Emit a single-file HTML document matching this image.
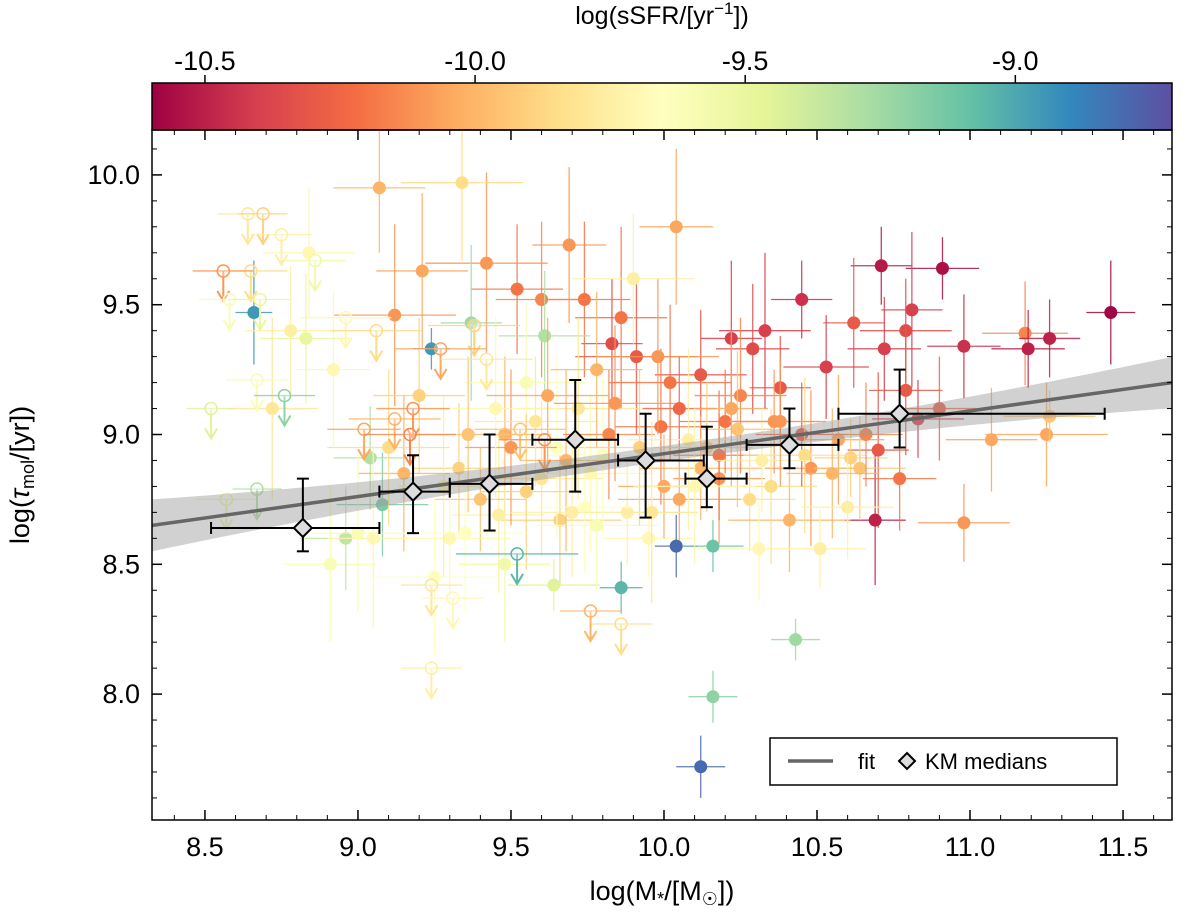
<!DOCTYPE html>
<html><head><meta charset="utf-8">
<style>
html,body{margin:0;padding:0;background:#fff;}
svg text{font-family:"Liberation Sans","DejaVu Sans",sans-serif;}
</style></head>
<body>
<svg id="chart" width="1200" height="913" viewBox="0 0 1200 913" xmlns="http://www.w3.org/2000/svg">
<defs>
<linearGradient id="spec" x1="0" x2="1" y1="0" y2="0">
<stop offset="0" stop-color="rgb(158,1,66)"/><stop offset="0.1" stop-color="rgb(213,62,79)"/><stop offset="0.2" stop-color="rgb(244,109,67)"/><stop offset="0.3" stop-color="rgb(253,174,97)"/><stop offset="0.4" stop-color="rgb(254,224,139)"/><stop offset="0.5" stop-color="rgb(255,255,191)"/><stop offset="0.6" stop-color="rgb(230,245,152)"/><stop offset="0.7" stop-color="rgb(171,221,164)"/><stop offset="0.8" stop-color="rgb(102,194,165)"/><stop offset="0.9" stop-color="rgb(50,136,189)"/><stop offset="1" stop-color="rgb(94,79,162)"/>
</linearGradient>
<clipPath id="plotclip"><rect x="152" y="130" width="1020" height="690"/></clipPath>
</defs>
<rect x="152" y="83" width="1020" height="47" fill="url(#spec)" stroke="#000" stroke-width="1.5"/>
<text x="662" y="24" font-size="25" text-anchor="middle">log(sSFR/[yr<tspan font-size="17" dy="-10">−1</tspan><tspan dy="10">])</tspan></text>
<g id="cbticks"></g>
<g id="marks" clip-path="url(#plotclip)"></g>
<rect x="152" y="130" width="1020" height="690" fill="none" stroke="#000" stroke-width="1.5"/>
<g id="axes"></g>
<text x="662" y="900" font-size="27" text-anchor="middle">log(M<tspan font-size="18" dy="5">*</tspan><tspan dy="-5">/[M</tspan><tspan font-size="18" dy="5">☉</tspan><tspan dy="-5">])</tspan></text>
<text transform="translate(29,475) rotate(-90)" font-size="27" text-anchor="middle">log(<tspan font-style="italic">τ</tspan><tspan font-size="18" dy="5">mol</tspan><tspan dy="-5">/[yr])</tspan></text>
<g>
<rect x="770" y="738" width="347" height="47" fill="#fff" stroke="#000" stroke-width="1.5"/>
<line x1="788" y1="761" x2="833" y2="761" stroke="#666" stroke-width="3.5"/>
<text x="858" y="769" font-size="22">fit</text>
<path d="M907,753 L915,761 L907,769 L899,761 Z" fill="#ddd" stroke="#000" stroke-width="2"/>
<text x="925" y="769" font-size="22">KM medians</text>
</g>
</svg>
<script>
// data arrays
const mass = [11.46,10.91,10.71,10.45,11.18,11.19,11.26,10.98,10.81,10.79,10.72,10.62,10.53,10.38,10.79,10.83,10.70,10.69,10.77,11.25,10.33,10.29,10.22,10.12,10.05,9.99,9.91,9.86,9.83,9.74,9.69,9.60,9.52,9.42,10.04,9.07,9.34,9.21,9.12,9.24,9.37,9.61,9.88,9.95,9.66,9.46,9.40,9.60,9.33,9.80,10.12,10.18,10.28,10.41,10.48,10.57,10.61,10.31,10.51,10.64,10.05,10.12,10.16,10.43,9.86,10.04,10.16,9.64,8.91,8.84,8.83,8.66,9.08,9.04,8.96,10.98,11.07,11.26,9.55,9.72,9.48,9.20,9.30,9.98,10.20,10.35,9.65,9.15,9.90,10.45,9.78,10.25,10.90,
9.50,9.58,9.68,9.76,9.82,9.92,10.00,10.08,10.18,10.24,10.36,10.46,10.55,10.66,9.45,9.55,9.62,9.74,9.84,9.96,10.02,10.14,10.22,10.32,9.36,9.28,9.10,9.00,8.92,8.78,8.72,9.35,9.48,9.70,9.78,10.10,10.38,10.60,9.25,9.05];
const tau = [9.47,9.64,9.65,9.52,9.39,9.33,9.37,9.34,9.48,9.40,9.33,9.43,9.26,9.18,9.17,9.06,8.94,8.67,8.83,9.00,9.40,9.33,9.37,9.23,9.10,9.03,9.30,9.45,9.35,9.52,9.73,9.52,9.56,9.66,9.80,9.95,9.97,9.63,9.46,9.33,9.43,9.38,8.70,8.60,8.67,8.69,8.75,8.83,8.87,8.92,8.87,8.83,8.75,8.67,8.87,8.98,8.91,8.56,8.56,8.87,8.75,7.72,7.99,8.21,8.41,8.57,8.57,8.42,8.50,9.70,9.37,9.47,8.73,8.91,8.60,8.66,8.98,9.07,9.20,9.10,9.00,9.15,8.60,9.30,9.05,8.80,8.95,8.85,9.60,9.00,8.65,9.15,9.10,
8.95,9.05,8.90,8.85,9.00,8.95,8.80,8.98,8.92,9.02,9.05,8.92,8.85,9.00,9.10,8.78,9.15,8.72,9.12,8.70,9.20,8.95,9.10,8.90,9.00,8.80,8.95,8.62,9.25,9.40,9.10,8.62,8.50,8.70,9.25,8.80,9.05,8.72,8.45,8.60];
const ssfr = [-10.58,-10.55,-10.52,-10.45,-10.15,-10.5,-10.5,-10.45,-10.4,-10.35,-10.4,-10.3,-10.4,-10.3,-10.3,-10.4,-10.3,-10.5,-10.2,-10.05,-10.4,-10.35,-10.4,-10.3,-10.25,-10.2,-10.3,-10.2,-10.35,-10.2,-10.1,-10.15,-10.2,-10.1,-10.05,-10.0,-9.85,-10.05,-10.1,-8.95,-9.25,-9.3,-9.75,-9.7,-9.9,-9.75,-9.95,-9.8,-9.9,-9.65,-10.0,-10.1,-9.85,-10.0,-10.1,-10.05,-9.9,-9.7,-9.75,-9.95,-10.05,-8.8,-9.2,-9.25,-9.05,-8.8,-9.1,-9.45,-9.6,-9.7,-9.5,-8.95,-9.15,-9.3,-9.35,-10.1,-10.05,-9.95,-9.6,-9.8,-10.0,-9.9,-9.7,-10.1,-10.2,-9.85,-9.65,-10.0,-9.75,-10.3,-9.6,-10.15,-10.25,
-10.1,-9.8,-10.0,-9.7,-10.15,-9.9,-10.05,-9.75,-10.2,-9.95,-10.1,-9.85,-10.0,-10.15,-9.7,-9.9,-10.05,-9.65,-10.1,-9.8,-10.2,-9.9,-10.05,-9.75,-9.95,-9.75,-9.85,-9.6,-9.7,-9.75,-9.8,-9.65,-9.55,-9.75,-10.0,-9.7,-10.1,-9.75,-9.65,-9.7];
const xerr = [0.08,0.12,0.1,0.1,0.14,0.12,0.1,0.12,0.1,0.15,0.12,0.1,0.14,0.1,0.12,0.15,0.1,0.1,0.12,0.2,0.15,0.12,0.1,0.15,0.12,0.15,0.2,0.15,0.1,0.15,0.12,0.15,0.15,0.2,0.12,0.15,0.2,0.15,0.2,0.06,0.1,0.15,0.2,0.15,0.2,0.15,0.15,0.2,0.15,0.2,0.2,0.15,0.15,0.2,0.15,0.15,0.12,0.2,0.15,0.15,0.2,0.08,0.08,0.08,0.07,0.07,0.1,0.15,0.15,0.15,0.15,0.06,0.15,0.12,0.15,0.15,0.15,0.15,0.2,0.2,0.15,0.15,0.2,0.2,0.15,0.15,0.2,0.15,0.2,0.15,0.2,0.15,0.12,
0.15,0.2,0.15,0.2,0.15,0.2,0.15,0.2,0.15,0.12,0.15,0.2,0.15,0.12,0.2,0.15,0.2,0.15,0.2,0.15,0.2,0.15,0.12,0.15,0.2,0.15,0.2,0.15,0.12,0.15,0.15,0.2,0.15,0.2,0.15,0.2,0.15,0.15,0.2,0.15];
const yerr = [0.2,0.12,0.15,0.15,0.2,0.15,0.15,0.2,0.3,0.2,0.2,0.25,0.2,0.2,0.25,0.15,0.3,0.25,0.2,0.2,0.3,0.25,0.3,0.25,0.2,0.3,0.3,0.35,0.25,0.3,0.3,0.3,0.25,0.35,0.3,0.25,0.3,0.3,0.35,0.08,0.3,0.25,0.2,0.15,0.25,0.3,0.2,0.3,0.25,0.3,0.2,0.25,0.2,0.2,0.3,0.25,0.15,0.2,0.15,0.2,0.2,0.12,0.1,0.08,0.1,0.12,0.1,0.1,0.3,0.25,0.25,0.2,0.2,0.2,0.2,0.15,0.2,0.1,0.3,0.35,0.3,0.3,0.25,0.3,0.2,0.3,0.35,0.3,0.25,0.2,0.25,0.3,0.2,
0.3,0.25,0.35,0.3,0.25,0.3,0.2,0.35,0.25,0.3,0.2,0.3,0.25,0.2,0.35,0.3,0.3,0.25,0.3,0.35,0.3,0.25,0.3,0.2,0.3,0.35,0.3,0.3,0.3,0.25,0.35,0.3,0.3,0.25,0.3,0.3,0.25,0.2,0.3,0.35];
// upper limits
const ulMass = [8.64,8.69,8.75,8.65,8.56,8.58,8.68,8.86,8.96,9.06,8.67,8.76,8.52,8.57,8.67,9.12,9.18,9.02,9.52,9.24,9.31,9.24,9.86,9.76,9.38,9.27,9.42,9.53,9.61,9.17];
const ulTau = [9.85,9.85,9.77,9.63,9.63,9.52,9.52,9.67,9.45,9.40,9.21,9.15,9.10,8.75,8.79,9.06,9.10,9.02,8.54,8.42,8.37,8.10,8.27,8.32,9.42,9.33,9.29,9.02,8.98,9.00];
const ulSsfr = [-9.8,-9.9,-9.75,-9.85,-10.1,-9.6,-9.5,-9.55,-9.7,-9.85,-9.6,-9.2,-9.45,-9.5,-9.3,-10.0,-10.1,-10.05,-9.05,-9.8,-9.7,-9.75,-9.85,-10.0,-9.9,-10.05,-9.8,-9.95,-10.1,-10.15];
const ulXerr = [0.1,0.08,0.1,0.12,0.1,0.1,0.1,0.1,0.15,0.15,0.1,0.1,0.08,0.1,0.08,0.15,0.12,0.12,0.2,0.1,0.1,0.1,0.1,0.1,0.15,0.15,0.15,0.15,0.15,0.15];
// KM medians
const kmMass = [8.82,9.18,9.43,9.71,9.94,10.14,10.41,10.77];
const kmTau = [8.64,8.78,8.81,8.98,8.90,8.83,8.96,9.08];
const kmXlo = [8.52,9.07,9.30,9.57,9.85,10.07,10.27,10.57];
const kmXhi = [9.07,9.30,9.57,9.85,10.13,10.27,10.57,11.44];
const kmYlo = [8.55,8.62,8.63,8.78,8.68,8.72,8.87,8.95];
const kmYhi = [8.83,8.92,9.00,9.21,9.08,9.03,9.10,9.25];
// fit
const fitSlope = [0.165];
const fitAt10 = [8.926];
const bandBase = [0.03];
const bandCurv = [0.025];
const xTicks = [8.5,9.0,9.5,10.0,10.5,11.0,11.5];
const yTicks = [8.0,8.5,9.0,9.5,10.0];
const cTicks = [-10.5,-10.0,-9.5,-9.0];

const X0=152,X1=1172,Y0=130,Y1=820;
const xmin=8.327,xmax=11.66,ymin=7.515,ymax=10.173,cmin=-10.598,cmax=-8.71;
const sx=v=>X0+(v-xmin)/(xmax-xmin)*(X1-X0);
const sy=v=>Y1-(v-ymin)/(ymax-ymin)*(Y1-Y0);
const sc=v=>X0+(v-cmin)/(cmax-cmin)*(X1-X0);
const stops=[[158,1,66],[213,62,79],[244,109,67],[253,174,97],[254,224,139],[255,255,191],[230,245,152],[171,221,164],[102,194,165],[50,136,189],[94,79,162]];
function cmap(v){let t=Math.max(0,Math.min(1,(v-cmin)/(cmax-cmin)))*10;let i=Math.min(9,Math.floor(t)),f=t-i;const a=stops[i],b=stops[i+1];return `rgb(${a.map((c,k)=>Math.round(c+(b[k]-c)*f)).join(',')})`;}
const NS='http://www.w3.org/2000/svg';
function mk(tag,attrs,parent){const e=document.createElementNS(NS,tag);for(const k in attrs)e.setAttribute(k,attrs[k]);parent.appendChild(e);return e;}
const marks=document.getElementById('marks'),axes=document.getElementById('axes'),cb=document.getElementById('cbticks');

// scatter detections
mass.forEach((m,i)=>{
  const g=mk('g',{},marks);
  
  
  const c=cmap(ssfr[i]);
  mk('line',{x1:sx(m-xerr[i]),x2:sx(m+xerr[i]),y1:sy(tau[i]),y2:sy(tau[i]),stroke:c,'stroke-width':1.3,opacity:0.85},g);
  mk('line',{x1:sx(m),x2:sx(m),y1:sy(tau[i]-yerr[i]),y2:sy(tau[i]+yerr[i]),stroke:c,'stroke-width':1.3,opacity:0.85},g);
  mk('circle',{cx:sx(m),cy:sy(tau[i]),r:6.5,fill:c},g);
});
// upper limits
ulMass.forEach((m,i)=>{
  const g=mk('g',{},marks);
  
  
  const c=cmap(ulSsfr[i]),x=sx(m),y=sy(ulTau[i]);
  mk('line',{x1:sx(m-ulXerr[i]),x2:sx(m+ulXerr[i]),y1:y,y2:y,stroke:c,'stroke-width':1.3,opacity:0.85},g);
  mk('line',{x1:x,x2:x,y1:y,y2:y+28,stroke:c,'stroke-width':2},g);
  mk('path',{d:`M${x-6},${y+20} L${x},${y+30} L${x+6},${y+20}`,fill:'none',stroke:c,'stroke-width':2},g);
  mk('circle',{cx:x,cy:y,r:6,fill:'#fff','fill-opacity':0.3,stroke:c,'stroke-width':1.5},g);
});
// fit band and line
let up=[],dn=[];
for(let k=0;k<=60;k++){const m=xmin+(xmax-xmin)*k/60;const f=fitAt10[0]+fitSlope[0]*(m-10);const w=bandBase[0]+bandCurv[0]*(m-10)*(m-10);up.push(`${sx(m)},${sy(f+w)}`);dn.unshift(`${sx(m)},${sy(f-w)}`);}
const band=mk('polygon',{points:up.concat(dn).join(' '),fill:'#999','fill-opacity':0.45},marks);


const fl=mk('line',{x1:sx(xmin),x2:sx(xmax),y1:sy(fitAt10[0]+fitSlope[0]*(xmin-10)),y2:sy(fitAt10[0]+fitSlope[0]*(xmax-10)),stroke:'#666','stroke-width':3.5},marks);


// KM medians
kmMass.forEach((m,i)=>{
  const g=mk('g',{},marks);
  
  
  const x=sx(m),y=sy(kmTau[i]);
  mk('line',{x1:sx(kmXlo[i]),x2:sx(kmXhi[i]),y1:y,y2:y,stroke:'#000','stroke-width':2},g);
  mk('line',{x1:x,x2:x,y1:sy(kmYlo[i]),y2:sy(kmYhi[i]),stroke:'#000','stroke-width':2},g);
  [[sx(kmXlo[i]),y,1],[sx(kmXhi[i]),y,1],[x,sy(kmYlo[i]),0],[x,sy(kmYhi[i]),0]].forEach(([a,b,v])=>{
    if(v)mk('line',{x1:a,x2:a,y1:b-6,y2:b+6,stroke:'#000','stroke-width':2},g);
    else mk('line',{x1:a-6,x2:a+6,y1:b,y2:b,stroke:'#000','stroke-width':2},g);
  });
  mk('path',{d:`M${x},${y-9} L${x+9},${y} L${x},${y+9} L${x-9},${y} Z`,fill:'#ddd',stroke:'#000','stroke-width':2},g);
});
// axes ticks
xTicks.forEach(v=>{const x=sx(v);
  mk('line',{x1:x,x2:x,y1:Y1,y2:Y1-10,stroke:'#000','stroke-width':1.5},axes);
  mk('line',{x1:x,x2:x,y1:Y0,y2:Y0+10,stroke:'#000','stroke-width':1.5},axes);
  const t=mk('text',{x:x,y:Y1+36,'font-size':27,'text-anchor':'middle'},axes);t.textContent=v.toFixed(1);
  
  
});
for(let v=8.4;v<11.66;v+=0.1){if(Math.abs(v*2-Math.round(v*2))<0.01)continue;const x=sx(v);
  mk('line',{x1:x,x2:x,y1:Y1,y2:Y1-5,stroke:'#000','stroke-width':1},axes);
  mk('line',{x1:x,x2:x,y1:Y0,y2:Y0+5,stroke:'#000','stroke-width':1},axes);}
yTicks.forEach(v=>{const y=sy(v);
  mk('line',{x1:X0,x2:X0+10,y1:y,y2:y,stroke:'#000','stroke-width':1.5},axes);
  mk('line',{x1:X1,x2:X1-10,y1:y,y2:y,stroke:'#000','stroke-width':1.5},axes);
  const t=mk('text',{x:X0-12,y:y+9,'font-size':27,'text-anchor':'end'},axes);t.textContent=v.toFixed(1);
  
  
});
for(let v=7.6;v<10.17;v+=0.1){if(Math.abs(v*2-Math.round(v*2))<0.01)continue;const y=sy(v);
  mk('line',{x1:X0,x2:X0+5,y1:y,y2:y,stroke:'#000','stroke-width':1},axes);
  mk('line',{x1:X1,x2:X1-5,y1:y,y2:y,stroke:'#000','stroke-width':1},axes);}
cTicks.forEach(v=>{const x=sc(v);
  mk('line',{x1:x,x2:x,y1:83,y2:75,stroke:'#000','stroke-width':1.5},cb);
  const t=mk('text',{x:x,y:70,'font-size':27,'text-anchor':'middle'},cb);t.textContent=v.toFixed(1);
  
  
});
</script>
</body></html>
